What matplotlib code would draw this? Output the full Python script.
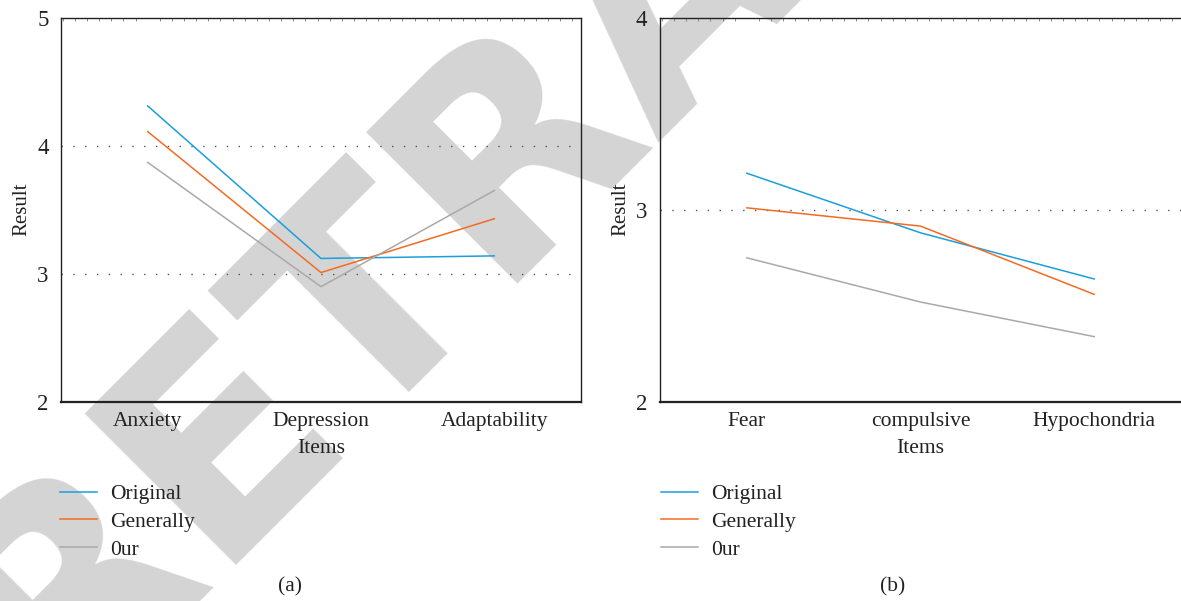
import matplotlib
matplotlib.use('Agg')
import matplotlib.pyplot as plt
from matplotlib.ticker import MultipleLocator
import numpy as np

plt.rcParams['font.family'] = ['Liberation Serif', 'DejaVu Serif']

# panel (a)
items_a = ['Anxiety', 'Depression', 'Adaptability']
original_a = [4.31, 3.12, 3.14]
generally_a = [4.11, 3.01, 3.43]
our_a = [3.87, 2.90, 3.65]

# panel (b)
items_b = ['Fear', 'compulsive', 'Hypochondria']
original_b = [3.19, 2.88, 2.64]
generally_b = [3.01, 2.915, 2.56]
our_b = [2.75, 2.52, 2.34]

series_names = ['Original', 'Generally', '0ur']
colors = ['#1a9fdc', '#f36b22', '#a9a9a9']

W, H = 1181, 601
fig = plt.figure(figsize=(W / 100, H / 100), dpi=100)

# watermark behind everything
fig.text(0.572, 1.025, 'RETRACTED', rotation=45, ha='center', va='center',
         fontsize=210, fontweight='bold', family='DejaVu Sans',
         color='#d4d4d4', zorder=-5)

ax1 = fig.add_axes([61 / W, 1 - 402 / H, 520 / W, (402 - 17.5) / H])
ax2 = fig.add_axes([660 / W, 1 - 402 / H, 521 / W, (402 - 17.5) / H])
for ax in (ax1, ax2):
    ax.patch.set_alpha(0)


def draw(ax, items, data, ylim, yticks, grid_y, legend_x, tag_x, tag):
    x = np.arange(len(items))
    for vals, c, name in zip(data, colors, series_names):
        ax.plot(x, vals, color=c, lw=1.1, label=name)
    for g in grid_y:
        ax.axhline(g, color='#555555', lw=1, dashes=(1, 7.5), zorder=0)
    ax.set_xlim(-0.5, 2.5)
    ax.set_ylim(*ylim)
    ax.set_yticks(yticks)
    ax.set_xticks(x)
    ax.set_xticklabels(items)
    ax.set_xlabel('Items', fontsize=15.5, labelpad=6, color='#222222')
    ax.set_ylabel('Result', fontsize=15, labelpad=4, color='#222222')
    ax.tick_params(axis='both', length=0, labelsize=15.5, colors='#222222')
    ax.tick_params(axis='y', pad=9, labelsize=16.5)
    ax.tick_params(axis='x', pad=7)
    ax.xaxis.set_minor_locator(MultipleLocator(0.07))
    ax.tick_params(axis='x', which='minor', bottom=False, top=True,
                   direction='in', length=2, width=0.6, color='#777777')
    for s in ax.spines.values():
        s.set_linewidth(1.0)
        s.set_color('#222222')
    ax.spines['bottom'].set_linewidth(1.6)
    ax.legend(loc='upper left', bbox_to_anchor=(legend_x / W, 1 - 484 / H),
              bbox_transform=fig.transFigure, frameon=False, fontsize=15.5,
              handlelength=1.7, handletextpad=0.65, labelspacing=0.36,
              borderpad=0, borderaxespad=0, labelcolor='#222222')
    fig.text(tag_x / W, 1 - 587 / H, tag, ha='center', va='center',
             fontsize=15.5, color='#222222')


draw(ax1, items_a, [original_a, generally_a, our_a], (2, 5), [2, 3, 4, 5],
     [3, 4], 60, 290, '(a)')
draw(ax2, items_b, [original_b, generally_b, our_b], (2, 4), [2, 3, 4],
     [3], 661, 893, '(b)')
ax2.spines['right'].set_visible(False)

fig.savefig('out.png', dpi=100)
